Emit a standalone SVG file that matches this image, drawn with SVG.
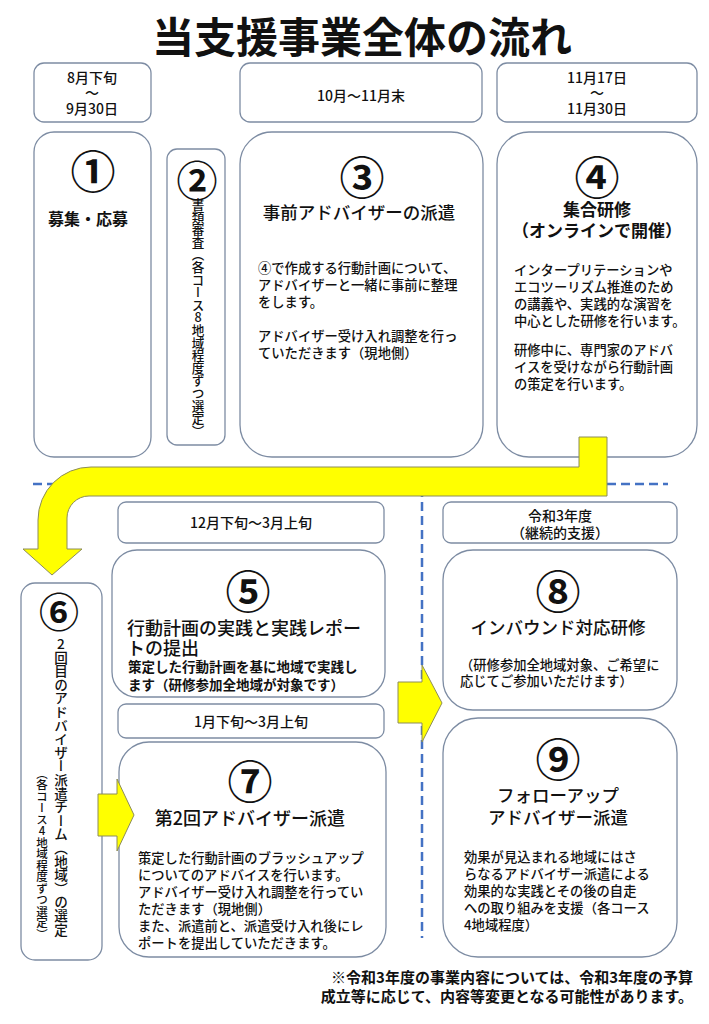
<svg xmlns="http://www.w3.org/2000/svg" width="709" height="1024" viewBox="0 0 709 1024">
<style>
.bg{fill:#ffffff}
.box{fill:#ffffff;stroke:#7d8ca3;stroke-width:1.3}
text{font-family:"Noto Sans CJK JP","Noto Sans CJK SC",sans-serif;fill:#111111}
.title{font-size:42px;font-weight:700;text-anchor:middle}
.num{font-size:45px;font-weight:700;text-anchor:middle}
.h{font-size:17.5px;font-weight:500;text-anchor:middle}
.hb{font-size:17px;font-weight:700;text-anchor:middle}
.b{font-size:13.3px;font-weight:500}
.d{font-size:14px;font-weight:500;text-anchor:middle}
.v{writing-mode:vertical-rl;text-orientation:upright;font-weight:500}
.foot{font-size:15px;font-weight:700;text-anchor:end}
.yarrow{fill:#ffff00;stroke:#8c8c5a;stroke-width:1}
.dash{fill:none;stroke:#4472c4;stroke-width:2.5;stroke-dasharray:9 5}
</style>
<rect class="bg" x="0" y="0" width="709" height="1024"/>
<text class="title" x="362" y="53">当支援事業全体の流れ</text>

<g id="dividers">
<path class="dash" d="M33,484 H668"/>
<path class="dash" d="M422,488 V938"/>
</g>

<g id="date1">
<rect class="box" x="34" y="63" width="117" height="59" rx="10"/>
<text class="d" x="92" y="83">8月下旬</text>
<text class="d" x="92" y="98">～</text>
<text class="d" x="92" y="114">9月30日</text>
</g>
<g id="date3">
<rect class="box" x="240" y="63" width="242" height="59" rx="10"/>
<text class="d" x="361" y="101">10月～11月末</text>
</g>
<g id="date4">
<rect class="box" x="497" y="63" width="200" height="59" rx="10"/>
<text class="d" x="597" y="83">11月17日</text>
<text class="d" x="597" y="98">～</text>
<text class="d" x="597" y="114">11月30日</text>
</g>
<g id="date5">
<rect class="box" x="118" y="502" width="266" height="41" rx="8"/>
<text class="d" x="251" y="528">12月下旬～3月上旬</text>
</g>
<g id="date8">
<rect class="box" x="443" y="502" width="234" height="41" rx="8"/>
<text class="d" x="560" y="521">令和3年度</text>
<text class="d" x="560" y="538">（継続的支援）</text>
</g>
<g id="date7">
<rect class="box" x="118" y="704" width="266" height="34" rx="8"/>
<text class="d" x="251" y="727">1月下旬～3月上旬</text>
</g>

<g id="node1">
<rect class="box" x="34" y="132" width="117" height="325" rx="20"/>
<text class="num" x="93" y="189">①</text>
<text x="88" y="225" style="font-size:16px;font-weight:700;text-anchor:middle">募集・応募</text>
</g>

<g id="node2">
<rect class="box" x="167" y="149" width="58" height="296" rx="10"/>
<text class="num" x="197" y="196" style="font-size:41px">②</text>
<text class="v" x="198" y="198" style="font-size:12.6px">書類審査（各コース8地域程度ずつ選定）</text>
</g>

<g id="node3">
<rect class="box" x="240" y="132" width="243" height="325" rx="32"/>
<text class="num" x="362" y="195">③</text>
<text class="h" x="359" y="219">事前アドバイザーの派遣</text>
<text class="b" x="258" y="273">④で作成する行動計画について、</text>
<text class="b" x="258" y="290">アドバイザーと一緒に事前に整理</text>
<text class="b" x="258" y="307">をします。</text>
<text class="b" x="258" y="341">アドバイザー受け入れ調整を行っ</text>
<text class="b" x="258" y="358">ていただきます（現地側）</text>
</g>

<g id="node4">
<rect class="box" x="497" y="132" width="200" height="325" rx="32"/>
<text class="num" x="597" y="195">④</text>
<text class="hb" x="597" y="216">集合研修</text>
<text class="hb" x="597" y="237">（オンラインで開催）</text>
<text class="b" x="514" y="275">インタープリテーションや</text>
<text class="b" x="514" y="292">エコツーリズム推進のため</text>
<text class="b" x="514" y="309">の講義や、実践的な演習を</text>
<text class="b" x="514" y="326">中心とした研修を行います。</text>
<text class="b" x="514" y="355">研修中に、専門家のアドバ</text>
<text class="b" x="514" y="372">イスを受けながら行動計画</text>
<text class="b" x="514" y="389">の策定を行います。</text>
</g>

<g id="node5">
<rect class="box" x="112" y="550" width="273" height="147" rx="25"/>
<text class="num" x="248" y="609">⑤</text>
<text x="127" y="635" style="font-size:18px;font-weight:500">行動計画の実践と実践レポー</text>
<text x="127" y="655" style="font-size:18px;font-weight:500">トの提出</text>
<text x="128" y="672" style="font-size:13.5px;font-weight:700">策定した行動計画を基に地域で実践し</text>
<text x="128" y="690" style="font-size:13.5px;font-weight:700">ます（研修参加全地域が対象です）</text>
</g>

<g id="node6">
<rect class="box" x="21" y="583" width="81" height="377" rx="14"/>
<text class="num" x="59" y="627" style="font-size:40px">⑥</text>
<text class="v" x="61" y="637" style="font-size:13.6px">2回目のアドバイザー派遣チーム（地域）の選定</text>
<text class="v" x="42" y="940" style="font-size:11.5px;text-anchor:end">（各コース4地域程度ずつ選定）</text>
</g>

<g id="node7">
<rect class="box" x="119" y="742" width="267" height="215" rx="30"/>
<text class="num" x="250" y="799">⑦</text>
<text x="250" y="825" style="font-size:18px;font-weight:500;text-anchor:middle">第2回アドバイザー派遣</text>
<text class="b" x="138" y="863">策定した行動計画のブラッシュアップ</text>
<text class="b" x="138" y="880">についてのアドバイスを行います。</text>
<text class="b" x="138" y="897">アドバイザー受け入れ調整を行ってい</text>
<text class="b" x="138" y="914">ただきます（現地側）</text>
<text class="b" x="138" y="931">また、派遣前と、派遣受け入れ後にレ</text>
<text class="b" x="138" y="948">ポートを提出していただきます。</text>
</g>

<g id="node8">
<rect class="box" x="443" y="550" width="234" height="160" rx="30"/>
<text class="num" x="558" y="609">⑧</text>
<text class="h" x="558" y="634">インバウンド対応研修</text>
<text class="b" x="460" y="670">（研修参加全地域対象、ご希望に</text>
<text class="b" x="460" y="686">応じてご参加いただけます）</text>
</g>

<g id="node9">
<rect class="box" x="443" y="718" width="234" height="239" rx="35"/>
<text class="num" x="558" y="777">⑨</text>
<text class="h" x="558" y="802">フォローアップ</text>
<text class="h" x="558" y="824">アドバイザー派遣</text>
<text class="b" x="464" y="862">効果が見込まれる地域にはさ</text>
<text class="b" x="464" y="879">らなるアドバイザー派遣による</text>
<text class="b" x="464" y="896">効果的な実践とその後の自走</text>
<text class="b" x="464" y="913">への取り組みを支援（各コース</text>
<text class="b" x="464" y="930">4地域程度）</text>
</g>

<g id="connectors">
<path class="yarrow" d="M579,437 H607 V496 H89 A22,22 0 0 0 67,518 V549 H82 L52,575 L23,549 H38 V520 A53,53 0 0 1 91,467 H579 Z"/>
<path class="yarrow" d="M98,794 H117 V779 L134,815 L117,851 V836 H98 Z"/>
<path class="yarrow" d="M398,682 H422 V665 L442,703 L422,742 V723 H398 Z"/>
</g>

<g id="footnote">
<text class="foot" x="693" y="983">※令和3年度の事業内容については、令和3年度の予算</text>
<text class="foot" x="693" y="1002">成立等に応じて、内容等変更となる可能性があります。</text>
</g>
</svg>
